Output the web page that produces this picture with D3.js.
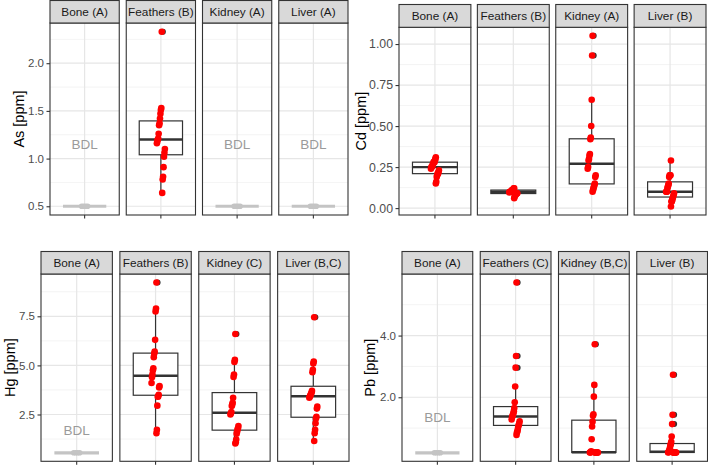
<!DOCTYPE html>
<html><head><meta charset="utf-8">
<script src="https://cdn.jsdelivr.net/npm/d3@7"></script>
<style>body{margin:0;background:#fff} svg{display:block} text{font-family:"Liberation Sans",Arial,sans-serif}</style>
</head><body><svg id="c" width="708" height="466"></svg>
<script>
// ---------- DATA ----------
const tissues = ["Bone", "Feathers", "Kidney", "Liver"];

// As [ppm]
const asLetters = ["A", "B", "A", "A"];
const asBDL = 0.5;                 // value drawn for below-detection-limit groups
const asBDLLabel = 1.15;
const asFeathers = [2.33, 1.53, 1.51, 1.47, 1.42, 1.37, 1.35, 1.26, 1.21, 1.20, 1.18, 1.16, 1.10, 1.06, 1.02, 0.91, 0.81, 0.78, 0.64];
const asTicks = [0.5, 1.0, 1.5, 2.0];

// Cd [ppm]
const cdLetters = ["A", "B", "A", "B"];
const cdBone = [0.31, 0.30, 0.29, 0.28, 0.28, 0.28, 0.27, 0.26, 0.26, 0.25, 0.25, 0.24, 0.23, 0.22, 0.21, 0.21, 0.20, 0.19, 0.16, 0.15];
const cdFeathers = [0.12, 0.12, 0.115, 0.11, 0.11, 0.11, 0.105, 0.10, 0.10, 0.10, 0.10, 0.095, 0.09, 0.09, 0.09, 0.085, 0.08, 0.08, 0.07, 0.06];
const cdKidney = [1.05, 0.93, 0.66, 0.50, 0.43, 0.42, 0.33, 0.32, 0.30, 0.29, 0.25, 0.24, 0.20, 0.19, 0.15, 0.14, 0.13, 0.12, 0.11, 0.10];
const cdLiver = [0.29, 0.20, 0.20, 0.20, 0.19, 0.15, 0.14, 0.13, 0.12, 0.10, 0.10, 0.10, 0.09, 0.08, 0.07, 0.06, 0.05, 0.04, 0.04, 0.01];
const cdTicks = [0.00, 0.25, 0.50, 0.75, 1.00];

// Hg [ppm]
const hgLetters = ["A", "B", "C", "B,C"];
const hgBDL = 0.55;
const hgBDLLabel = 1.67;
const hgFeathers = [9.22, 7.90, 7.75, 6.30, 5.70, 5.60, 5.42, 4.85, 4.75, 4.55, 4.40, 4.10, 3.95, 3.88, 3.50, 3.42, 3.40, 2.95, 1.72, 1.55];
const hgKidney = [6.60, 5.28, 5.17, 4.54, 4.41, 3.35, 3.10, 3.00, 2.93, 2.62, 2.56, 2.50, 1.91, 1.80, 1.73, 1.62, 1.52, 1.23, 1.09, 1.02];
const hgLiver = [7.45, 5.20, 5.10, 4.78, 4.65, 3.70, 3.62, 3.55, 3.50, 3.45, 3.40, 3.35, 2.90, 2.80, 2.38, 2.30, 2.05, 1.72, 1.55, 1.15];
const hgTicks = [2.5, 5.0, 7.5];

// Pb [ppm]
const pbLetters = ["A", "C", "B,C", "B"];
const pbBDL = 0.2;
const pbBDLLabel = 1.33;
const pbFeathers = [5.72, 3.34, 2.96, 2.35, 1.84, 1.65, 1.55, 1.48, 1.43, 1.40, 1.35, 1.28, 1.22, 1.15, 1.10, 1.05, 0.97, 0.90, 0.86, 0.78];
const pbKidney = [3.72, 2.40, 2.02, 1.45, 1.40, 1.21, 1.05, 0.64, 0.25, 0.22, 0.21, 0.21, 0.21, 0.21, 0.21, 0.21, 0.21, 0.21, 0.21, 0.21];
const pbLiver = [2.73, 1.43, 1.13, 0.73, 0.56, 0.48, 0.44, 0.35, 0.30, 0.25, 0.22, 0.21, 0.21, 0.21, 0.21, 0.21, 0.21, 0.21, 0.21, 0.21];
const pbTicks = [2.0, 4.0];

// ---------- LAYOUT / DRAW ----------
const svg = d3.select("#c");
const groups = [
  { title: "As [ppm]", letters: asLetters, series: [null, asFeathers, null, null], bdl: [asBDL, null, asBDL, asBDL],
    bdlLabel: asBDLLabel, ticks: asTicks, fmt: d3.format(".1f"), tickFont: 11.5,
    x0: 50, x1: 348, gap: 7, stripTop: 0.5, top: 23, bottom: 215, titleX: 19 },
  { title: "Cd [ppm]", letters: cdLetters, series: [cdBone, cdFeathers, cdKidney, cdLiver], bdl: [null, null, null, null],
    bdlLabel: null, ticks: cdTicks, fmt: d3.format(".2f"), tickFont: 12.3,
    x0: 399, x1: 706, gap: 6.5, stripTop: 4.5, top: 27.3, bottom: 215, titleX: 361 },
  { title: "Hg [ppm]", letters: hgLetters, series: [null, hgFeathers, hgKidney, hgLiver], bdl: [hgBDL, null, null, null],
    bdlLabel: hgBDLLabel, ticks: hgTicks, fmt: d3.format(".1f"), tickFont: 11.5,
    x0: 41, x1: 349, gap: 7.5, stripTop: 251.5, top: 274, bottom: 461.3, titleX: 10 },
  { title: "Pb [ppm]", letters: pbLetters, series: [null, pbFeathers, pbKidney, pbLiver], bdl: [pbBDL, null, null, null],
    bdlLabel: pbBDLLabel, ticks: pbTicks, fmt: d3.format(".1f"), tickFont: 11.5,
    x0: 402, x1: 707.5, gap: 7.5, stripTop: 251.5, top: 274, bottom: 461.3, titleX: 370 }
];

const jit = i => ((((i * 37 + 11) % 19) / 18) - 0.5);

groups.forEach(g => {
  const allVals = [];
  g.series.forEach(s => { if (s) allVals.push(...s); });
  g.bdl.forEach(b => { if (b != null) allVals.push(b); });
  const [mn, mx] = d3.extent(allVals);
  const pad = (mx - mn) * 0.05;
  const y = d3.scaleLinear().domain([mn - pad, mx + pad]).range([g.bottom, g.top]);
  const n = tissues.length;
  const pi = g.gap / ((g.x1 - g.x0 + g.gap) / n);
  const fx = d3.scaleBand().domain(tissues).range([g.x0, g.x1]).paddingInner(pi).paddingOuter(0);
  const bw = fx.bandwidth();
  const boxW = bw * 0.75 / 1.2;

  const step = g.ticks[1] - g.ticks[0];
  const minor = [];
  for (let v = g.ticks[0] - step / 2; v <= y.domain()[1]; v += step) if (v >= y.domain()[0]) minor.push(v);

  const G = svg.append("g");
  tissues.forEach((t, ti) => {
    const px = fx(t), cx = px + bw / 2;
    const P = G.append("g");
    P.append("rect").attr("x", px).attr("y", g.top).attr("width", bw).attr("height", g.bottom - g.top).attr("fill", "#fff");
    P.selectAll(".mn").data(minor).enter().append("line")
      .attr("x1", px).attr("x2", px + bw).attr("y1", d => y(d)).attr("y2", d => y(d))
      .attr("stroke", "#efefef").attr("stroke-width", 0.7);
    P.selectAll(".mj").data(g.ticks).enter().append("line")
      .attr("x1", px).attr("x2", px + bw).attr("y1", d => y(d)).attr("y2", d => y(d))
      .attr("stroke", "#e6e6e6").attr("stroke-width", 1.2);
    P.append("line").attr("x1", cx).attr("x2", cx).attr("y1", g.top).attr("y2", g.bottom)
      .attr("stroke", "#e6e6e6").attr("stroke-width", 1.2);

    const s = g.series[ti];
    if (s) {
      const sorted = s.slice().sort(d3.ascending);
      const q1 = d3.quantile(sorted, 0.25), med = d3.quantile(sorted, 0.5), q3 = d3.quantile(sorted, 0.75);
      const iqr = q3 - q1;
      const inside = sorted.filter(v => v >= q1 - 1.5 * iqr && v <= q3 + 1.5 * iqr);
      const wLo = d3.min(inside), wHi = d3.max(inside);
      const outl = sorted.filter(v => v < q1 - 1.5 * iqr || v > q3 + 1.5 * iqr);
      const col = "#333333";
      P.append("line").attr("x1", cx).attr("x2", cx).attr("y1", y(q3)).attr("y2", y(wHi)).attr("stroke", col).attr("stroke-width", 1.2);
      P.append("line").attr("x1", cx).attr("x2", cx).attr("y1", y(q1)).attr("y2", y(wLo)).attr("stroke", col).attr("stroke-width", 1.2);
      P.append("rect").attr("x", cx - boxW / 2).attr("y", y(q3)).attr("width", boxW).attr("height", Math.max(0.1, y(q1) - y(q3)))
        .attr("fill", "#fff").attr("stroke", col).attr("stroke-width", 1.2);
      P.append("line").attr("x1", cx - boxW / 2).attr("x2", cx + boxW / 2).attr("y1", y(med)).attr("y2", y(med))
        .attr("stroke", col).attr("stroke-width", 2.4);
      P.selectAll(".ol").data(outl).enter().append("circle")
        .attr("cx", cx + 2).attr("cy", d => y(d)).attr("r", 3).attr("fill", "#333");
      P.selectAll(".pt").data(s).enter().append("circle")
        .attr("cx", (d, i) => cx + jit(i) * 8).attr("cy", d => y(d)).attr("r", 3.3).attr("fill", "#ff0000");
    }
    const b = g.bdl[ti];
    if (b != null) {
      P.append("line").attr("x1", cx - boxW / 2).attr("x2", cx + boxW / 2).attr("y1", y(b)).attr("y2", y(b))
        .attr("stroke", "#c4c4c4").attr("stroke-width", 3.2);
      [-3, -1, 1, 3].forEach(dx => P.append("circle").attr("cx", cx + dx).attr("cy", y(b)).attr("r", 2.8).attr("fill", "#c4c4c4"));
      P.append("text").attr("x", cx).attr("y", y(g.bdlLabel)).attr("text-anchor", "middle").attr("dominant-baseline", "central")
        .attr("fill", "#9a9a9a").attr("font-size", 13.5).text("BDL");
    }
    P.append("rect").attr("x", px).attr("y", g.top).attr("width", bw).attr("height", g.bottom - g.top)
      .attr("fill", "none").attr("stroke", "#333").attr("stroke-width", 1.1);
    // strip
    P.append("rect").attr("x", px).attr("y", g.stripTop).attr("width", bw).attr("height", g.top - g.stripTop)
      .attr("fill", "#d9d9d9").attr("stroke", "#333").attr("stroke-width", 1.1);
    P.append("text").attr("x", cx).attr("y", (g.stripTop + g.top) / 2).attr("text-anchor", "middle").attr("dominant-baseline", "central")
      .attr("fill", "#1a1a1a").attr("font-size", 11.8).text(`${t} (${g.letters[ti]})`);
  });

  // y axis
  const ya = G.append("g").attr("transform", `translate(${g.x0},0)`)
    .call(d3.axisLeft(y).tickValues(g.ticks).tickFormat(g.fmt).tickSize(3.5).tickPadding(2.5));
  ya.select(".domain").remove();
  ya.selectAll(".tick line").attr("stroke", "#333").attr("stroke-width", 1.1);
  ya.selectAll(".tick text").attr("fill", "#4d4d4d").attr("font-size", g.tickFont).attr("font-family", "Liberation Sans, Arial, sans-serif");
  // x axis ticks (no labels)
  const xa = G.append("g").attr("transform", `translate(0,${g.bottom})`)
    .call(d3.axisBottom(fx).tickSize(3.5).tickFormat(""));
  xa.select(".domain").remove();
  xa.selectAll(".tick line").attr("stroke", "#333").attr("stroke-width", 1.1);
  // y title
  G.append("text").attr("transform", `translate(${g.titleX},${(g.top + g.bottom) / 2}) rotate(-90)`)
    .attr("text-anchor", "middle").attr("dominant-baseline", "central").attr("font-size", 14.5).attr("fill", "#000").text(g.title);
});
</script></body></html>
